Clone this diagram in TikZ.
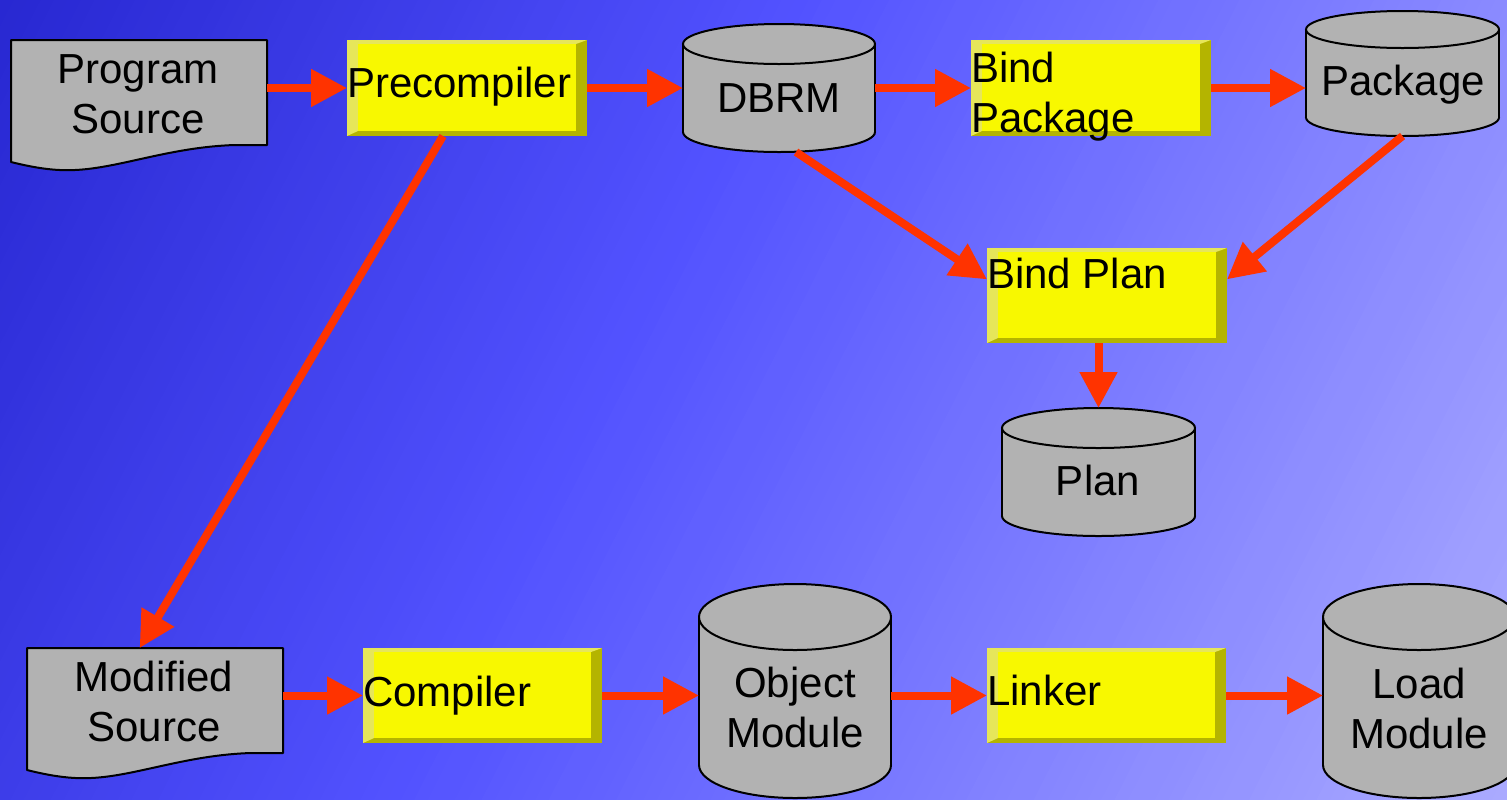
\documentclass[tikz,border=0pt]{standalone}
\usepackage{fontspec}
\setmainfont{Liberation Sans}
\usetikzlibrary{arrows.meta,calc,fit}
\definecolor{bgA}{RGB}{40,40,210}
\definecolor{bgB}{RGB}{82,82,255}
\definecolor{bgC}{RGB}{172,172,255}
\definecolor{arrred}{RGB}{255,51,0}
\definecolor{shapegray}{RGB}{178,178,178}
\definecolor{bevface}{RGB}{248,248,0}
\definecolor{bevlight}{RGB}{230,230,90}
\definecolor{bevdark}{RGB}{180,180,0}
\tikzset{
  arr/.style={draw=arrred, line width=4pt, -{Triangle[length=18pt,width=18pt]}},
  shapebox/.style={inner sep=0pt, outer sep=0pt, draw=none},
  cylst/.style={fill=shapegray, draw=black, line width=1pt},
  cylfill/.style={fill=shapegray},
  cylline/.style={draw=black, line width=1pt},
  docst/.style={fill=shapegray, draw=black, line width=1pt, line join=round},
  lbl/.style={font=\fontsize{21pt}{25pt}\selectfont, inner sep=0pt, outer sep=0pt, text=black},
}
\newcommand\cylshape[6]{%
  \pgfmathsetmacro\cylX{(#2+#4)/2}%
  \pgfmathsetmacro\cylR{(#4-#2)/2}%
  \pgfmathsetmacro\cylT{#3+#6}%
  \pgfmathsetmacro\cylB{#5-#6}%
  \node[shapebox, fit={(#2,#3)(#4,#5)}] (#1) {};
  \filldraw[cylst] (\cylX,\cylB) ellipse [x radius=\cylR, y radius=#6];
  \fill[cylfill] (#2,\cylT) rectangle (#4,\cylB);
  \draw[cylline] (#2,\cylT) -- (#2,\cylB) (#4,\cylT) -- (#4,\cylB);
  \filldraw[cylst] (\cylX,\cylT) ellipse [x radius=\cylR, y radius=#6];
}
\newcommand\bevbox[5]{%
  \node[shapebox, fit={(#2,#3)(#4,#5)}] (#1) {};
  \fill[bevdark] (#1.north west) rectangle (#1.south east);
  \fill[bevlight] (#1.north west) -- (#1.north east) -- ($(#1.north east)+(-11,4)$) -- ($(#1.north west)+(11,4)$) -- ($(#1.south west)+(11,-5)$) -- (#1.south west) -- cycle;
  \fill[bevface] ($(#1.north west)+(11,4)$) rectangle ($(#1.south east)+(-11,-5)$);
}
\newcommand\docshape[3]{%
  \node[shapebox, fit={({#2+11},{#3+40})({#2+267},{#3+170})}] (#1) {};
  \begin{scope}[shift={(#2,#3)}]
    \filldraw[docst] (11,40) -- (267,40) -- (267,145) -- (235,145) .. controls (170,147) and (120,168) .. (75,170) .. controls (55,171) and (35,168) .. (11,162) -- cycle;
  \end{scope}
}
\begin{document}
\begin{tikzpicture}[x=0.5pt,y=-0.5pt]
\useasboundingbox (0,0) rectangle (1507,799);
\clip (0,0) rectangle (1507,799);
% background gradient
\foreach \s in {0,12,...,1704} {
  \pgfmathtruncatemacro\pa{min(100,\s/7)}
  \pgfmathtruncatemacro\pb{max(0,(\s-700)/10.06)}
  \colorlet{bandt}{bgB!\pa!bgA}
  \colorlet{bandc}{bgC!\pb!bandt}
  \fill[bandc] ({\s*0.891+454},{\s*0.454-891}) -- ({\s*0.891-454},{\s*0.454+891}) -- ({1782-454},{908+891}) -- ({1782+454},{908-891}) -- cycle;
}
% shapes
\docshape{ps}{0}{0}
\docshape{ms}{16}{608}
\bevbox{pre}{347}{40}{587}{136}
\bevbox{bp}{971}{40}{1211}{136}
\bevbox{bplan}{987}{248}{1227}{343}
\bevbox{comp}{363}{648}{602}{743}
\bevbox{link}{987}{648}{1226}{743}
\cylshape{dbrm}{683}{24}{875}{152}{20}
\cylshape{pkg}{1306}{11}{1499}{136}{18.5}
\cylshape{plan}{1002}{408}{1195}{536}{20}
\cylshape{obj}{699}{584}{891}{798}{33}
\cylshape{load}{1323}{584}{1515}{798}{33}
% connectors
\draw[arr] (ps.east |- pre.west) -- (pre.west);
\draw[arr] (pre.east) -- (dbrm.west);
\draw[arr] (dbrm.east) -- (bp.west);
\draw[arr] (bp.east) -- (pkg.west |- bp.east);
\draw[arr] ($(dbrm.south)+(17,0)$) -- ($(bplan.north west)!0.33!(bplan.south west)$);
\draw[arr] (pkg.south) -- ($(bplan.north east)!0.33!(bplan.south east)$);
\draw[arr] (plan.north |- bplan.south) -- (plan.north);
\draw[arr] ($(pre.south west)!0.4!(pre.south east)$) -- ($(ms.north west)!0.44!(ms.north east)$);
\draw[arr] (ms.east |- comp.west) -- (comp.west);
\draw[arr] (comp.east) -- (obj.west |- comp.east);
\draw[arr] (obj.east |- link.west) -- (link.west);
\draw[arr] (link.east) -- (load.west |- link.east);
% labels
\node[lbl, anchor=base] (ps-t) at (138,83) {\begin{tabular}[t]{@{}c@{}}Program\\Source\end{tabular}};
\node[lbl, anchor=base west] (pre-t) at (347,97) {Precompiler};
\node[lbl, anchor=base] (dbrm-t) at (779,112) {DBRM};
\node[lbl, anchor=base west] (bp-t) at (971,82) {\begin{tabular}[t]{@{}l@{}}Bind\\Package\end{tabular}};
\node[lbl, anchor=base] (pkg-t) at (1403,95) {Package};
\node[lbl, anchor=base west] (bplan-t) at (987,288) {Bind Plan};
\node[lbl, anchor=base] (plan-t) at (1098,495) {Plan};
\node[lbl, anchor=base] (ms-t) at (154,691) {\begin{tabular}[t]{@{}c@{}}Modified\\Source\end{tabular}};
\node[lbl, anchor=base west] (comp-t) at (363,706) {Compiler};
\node[lbl, anchor=base] (obj-t) at (795,697) {\begin{tabular}[t]{@{}c@{}}Object\\Module\end{tabular}};
\node[lbl, anchor=base west] (link-t) at (987,705) {Linker};
\node[lbl, anchor=base] (load-t) at (1419,698) {\begin{tabular}[t]{@{}c@{}}Load\\Module\end{tabular}};
\end{tikzpicture}
\end{document}
